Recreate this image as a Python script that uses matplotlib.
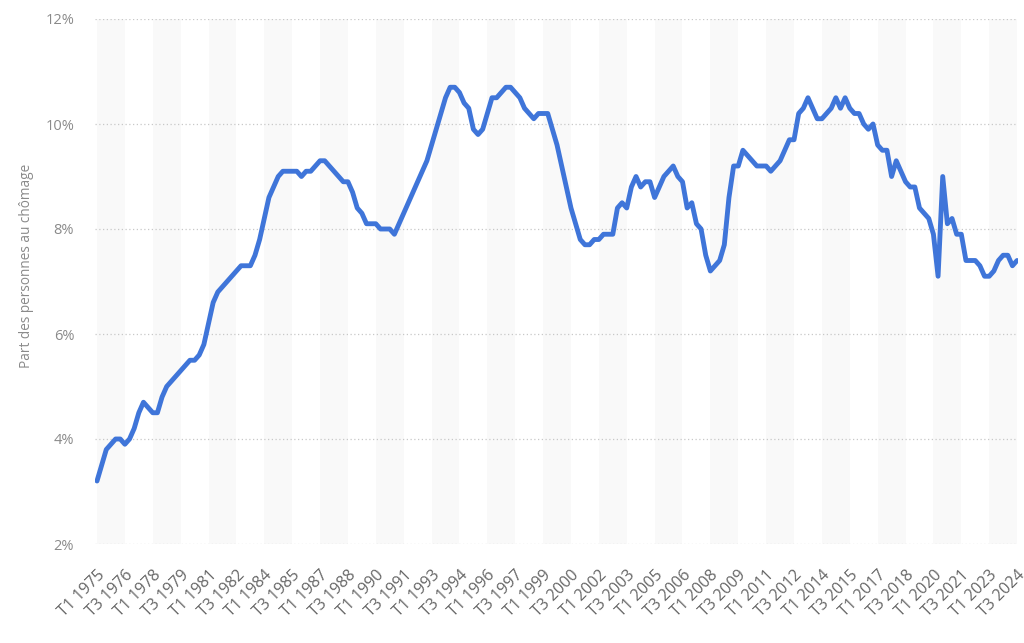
import matplotlib
matplotlib.use("Agg")
import matplotlib.pyplot as plt
import numpy as np

# Unemployment rate, quarterly from T1 1975 to T3 2024 (in %)
values_1975_1984 = [3.2, 3.5, 3.8, 3.9, 4.0, 4.0, 3.9, 4.0, 4.2, 4.5,
                    4.7, 4.6, 4.5, 4.5, 4.8, 5.0, 5.1, 5.2, 5.3, 5.4,
                    5.5, 5.5, 5.6, 5.8, 6.2, 6.6, 6.8, 6.9, 7.0, 7.1,
                    7.2, 7.3, 7.3, 7.3, 7.5, 7.8, 8.2, 8.6, 8.8, 9.0]
values_1985_1994 = [9.1, 9.1, 9.1, 9.1, 9.0, 9.1, 9.1, 9.2, 9.3, 9.3,
                    9.2, 9.1, 9.0, 8.9, 8.9, 8.7, 8.4, 8.3, 8.1, 8.1,
                    8.1, 8.0, 8.0, 8.0, 7.9, 8.1, 8.3, 8.5, 8.7, 8.9,
                    9.1, 9.3, 9.6, 9.9, 10.2, 10.5, 10.7, 10.7, 10.6, 10.4]
values_1995_2004 = [10.3, 9.9, 9.8, 9.9, 10.2, 10.5, 10.5, 10.6, 10.7, 10.7,
                    10.6, 10.5, 10.3, 10.2, 10.1, 10.2, 10.2, 10.2, 9.9, 9.6,
                    9.2, 8.8, 8.4, 8.1, 7.8, 7.7, 7.7, 7.8, 7.8, 7.9,
                    7.9, 7.9, 8.4, 8.5, 8.4, 8.8, 9.0, 8.8, 8.9, 8.9]
values_2005_2014 = [8.6, 8.8, 9.0, 9.1, 9.2, 9.0, 8.9, 8.4, 8.5, 8.1,
                    8.0, 7.5, 7.2, 7.3, 7.4, 7.7, 8.6, 9.2, 9.2, 9.5,
                    9.4, 9.3, 9.2, 9.2, 9.2, 9.1, 9.2, 9.3, 9.5, 9.7,
                    9.7, 10.2, 10.3, 10.5, 10.3, 10.1, 10.1, 10.2, 10.3, 10.5]
values_2015_2024 = [10.3, 10.5, 10.3, 10.2, 10.2, 10.0, 9.9, 10.0, 9.6, 9.5,
                    9.5, 9.0, 9.3, 9.1, 8.9, 8.8, 8.8, 8.4, 8.3, 8.2,
                    7.9, 7.1, 9.0, 8.1, 8.2, 7.9, 7.9, 7.4, 7.4, 7.4,
                    7.3, 7.1, 7.1, 7.2, 7.4, 7.5, 7.5, 7.3, 7.4]

values = (values_1975_1984 + values_1985_1994 + values_1995_2004
          + values_2005_2014 + values_2015_2024)

first_year = 1975
quarter_labels = [f"T{i % 4 + 1} {first_year + i // 4}" for i in range(len(values))]
tick_step = 6
y_ticks = [2, 4, 6, 8, 10, 12]

plt.rcParams['font.family'] = ['Open Sans', 'DejaVu Sans']

fig = plt.figure(figsize=(10.24, 6.43), dpi=100)
ax = fig.add_axes([95 / 1024, 1 - 544 / 643, 923 / 1024, 525 / 643])

x = np.arange(len(values))
n = len(values)

# alternating background bands
for start in range(0, n, tick_step * 2):
    ax.axvspan(start, min(start + tick_step, n - 1), color='#f9f9f9', lw=0, zorder=0)

for yt in y_ticks:
    ax.axhline(yt, color='#c8c8c8', lw=0.9, ls=(0, (1, 2)), zorder=1)

ax.plot(x, values, color='#3f75d9', lw=3.5, solid_joinstyle='round',
        solid_capstyle='round', zorder=3)

ax.set_xlim(-0.43, n - 1 + 0.2)
ax.set_ylim(2, 12)
ax.set_yticks(y_ticks)
ax.set_yticklabels([f"{v}%" for v in y_ticks])
tick_pos = list(range(0, n, tick_step))
ax.set_xticks(tick_pos)
ax.set_xticklabels([quarter_labels[i] for i in tick_pos], rotation=45,
                   ha='right', rotation_mode='anchor')

ax.tick_params(axis='both', length=0)
ax.tick_params(axis='y', pad=15, labelcolor='#8a8a8a', labelsize=10.5)
ax.tick_params(axis='x', pad=17, labelcolor='#666666', labelsize=11.5)
for s in ax.spines.values():
    s.set_visible(False)

fig.text(27 / 1024, 1 - 266 / 643, "Part des personnes au chômage",
         color='#8a8a8a', fontsize=9.8, rotation=90, ha='center', va='center')

fig.savefig("out.png", dpi=100)
